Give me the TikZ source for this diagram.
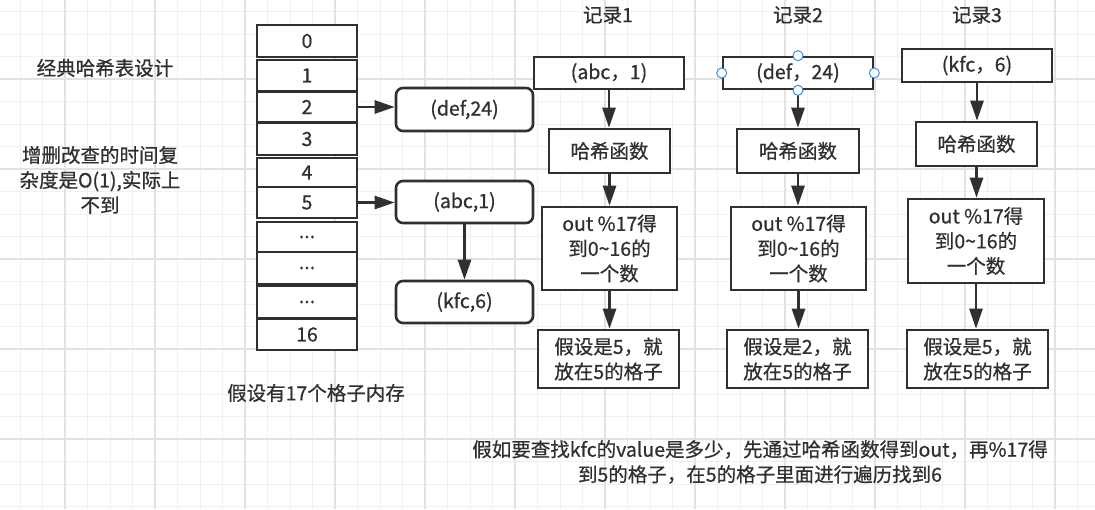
\documentclass[tikz,border=0pt]{standalone}
\usepackage{fontspec}
\setmainfont{Noto Sans CJK SC}[RawFeature={embolden=0.7}]
\usetikzlibrary{arrows.meta}
\definecolor{ink}{HTML}{303030}
\definecolor{gridminor}{HTML}{F0F0F0}
\definecolor{gridmajor}{HTML}{E2E2E2}
\definecolor{handle}{HTML}{3D8EF0}
\newcommand{\wave}{{\char"7E}}
\tikzset{
  minorline/.style={draw=gridminor, line width=1pt},
  majorline/.style={draw=gridmajor, line width=1.2pt},
  box/.style={draw=ink, line width=2.6pt, fill=white, align=center, inner sep=0pt, text=ink},
  rbox/.style={box, rounded corners=7pt},
  arr/.style={draw=ink, line width=2.6pt, -{Triangle[length=20pt,width=13pt]}},
  lbl/.style={text=ink, align=center, inner sep=0pt},
  handlept/.style={circle, draw=handle, fill=white, line width=1pt, minimum size=10pt, inner sep=0pt},
}
\begin{document}
\begin{tikzpicture}[x=1pt, y=-1pt, font=\fontsize{19.5}{25}\selectfont]
\useasboundingbox[fill=white] (0,0) rectangle (1095,509);
% grid
\foreach \k in {0,...,47} \draw[minorline] ({20+22.5*\k},0) -- ({20+22.5*\k},509);
\foreach \k in {0,...,22} \draw[minorline] (0,{11.5+22.5*\k}) -- (1095,{11.5+22.5*\k});
\foreach \k in {0,...,11} \draw[majorline] ({65+90*\k},0) -- ({65+90*\k},509);
\foreach \k in {0,...,4} \draw[majorline] (0,{79+90*\k}) -- (1095,{79+90*\k});

% left texts
\node[lbl] (title) at (105,68) {经典哈希表设计};
\node[lbl] (note) at (100,180) {增删改查的时间复\\杂度是O(1),实际上\\不到};
\node[lbl] (mem) at (316,393) {假设有17个格子内存};

% array cells
\node[box, minimum width=100pt, minimum height=32pt] (c0) at (307,41) {0};
\node[box, minimum width=100pt, minimum height=31pt] (c1) at (307,75.5) {1};
\node[box, minimum width=100pt, minimum height=30pt] (c2) at (307,107) {2};
\node[box, minimum width=100pt, minimum height=32pt] (c3) at (307,139) {3};
\node[box, minimum width=100pt, minimum height=29pt] (c4) at (307,172.5) {4};
\node[box, minimum width=100pt, minimum height=31pt] (c5) at (307,202.5) {5};
\node[box, minimum width=100pt, minimum height=30pt] (c6) at (307,237) {...};
\node[box, minimum width=100pt, minimum height=32pt] (c7) at (307,268) {...};
\node[box, minimum width=100pt, minimum height=32pt] (c8) at (307,302) {...};
\node[box, minimum width=100pt, minimum height=31pt] (c16) at (307,334.5) {16};

% chain nodes
\node[rbox, minimum width=137pt, minimum height=43pt] (d1) at (464.5,109.5) {(def,24)};
\node[rbox, minimum width=137pt, minimum height=42pt] (a1) at (464.5,202) {(abc,1)};
\node[rbox, minimum width=137pt, minimum height=42pt] (k1) at (464.5,302) {(kfc,6)};
\draw[arr] (c2.east) -- (c2.east -| d1.west);
\draw[arr] (c5.east) -- (c5.east -| a1.west);
\draw[arr] (a1.south) -- (k1.north);

% record labels
\node[lbl] (l1) at (608,15) {记录1};
\node[lbl] (l2) at (798,15) {记录2};
\node[lbl] (l3) at (977,15) {记录3};

% record 1
\node[box, minimum width=150pt, minimum height=32pt] (r1a) at (609,73) {(abc，1)};
\node[box, minimum width=121pt, minimum height=44pt] (r1b) at (609.5,151) {哈希函数};
\node[box, minimum width=135pt, minimum height=83pt] (r1c) at (609.5,248.5) {out \%17得\\到0\wave16的\\一个数};
\node[box, minimum width=141pt, minimum height=58pt] (r1d) at (608.5,359) {假设是5，就\\放在5的格子};
\draw[arr] (r1a.south) -- (r1a.south |- r1b.north);
\draw[arr] (r1b.south) -- (r1b.south |- r1c.north);
\draw[arr] (r1c.south) -- (r1c.south |- r1d.north);

% record 2
\node[box, minimum width=150pt, minimum height=32pt] (r2a) at (798,73) {(def，24)};
\node[box, minimum width=122pt, minimum height=44pt] (r2b) at (798,151) {哈希函数};
\node[box, minimum width=135pt, minimum height=83pt] (r2c) at (798.5,248.5) {out \%17得\\到0\wave16的\\一个数};
\node[box, minimum width=141pt, minimum height=58pt] (r2d) at (797.5,359) {假设是2，就\\放在5的格子};
\draw[arr] (r2a.south) -- (r2a.south |- r2b.north);
\draw[arr] (r2b.south) -- (r2b.south |- r2c.north);
\draw[arr] (r2c.south) -- (r2c.south |- r2d.north);
\node[handlept] (hw) at (r2a.west) {};
\node[handlept] (he) at (r2a.east) {};
\node[handlept] (hn) at (r2a.north) {};
\node[handlept] (hs) at (r2a.south) {};

% record 3
\node[box, minimum width=150pt, minimum height=33pt] (r3a) at (977,65.5) {(kfc，6)};
\node[box, minimum width=121pt, minimum height=44pt] (r3b) at (976.5,144) {哈希函数};
\node[box, minimum width=136pt, minimum height=84pt] (r3c) at (976,241) {out \%17得\\到0\wave16的\\一个数};
\node[box, minimum width=141pt, minimum height=58pt] (r3d) at (977.5,359) {假设是5，就\\放在5的格子};
\draw[arr] (r3a.south) -- (r3a.south |- r3b.north);
\draw[arr] (r3b.south) -- (r3b.south |- r3c.north);
\draw[arr] (r3c.south) -- (r3c.south |- r3d.north);

% bottom note
\node[lbl] (bottom) at (760,462) {假如要查找kfc的value是多少，先通过哈希函数得到out，再\%17得\\到5的格子，在5的格子里面进行遍历找到6};
\end{tikzpicture}
\end{document}
